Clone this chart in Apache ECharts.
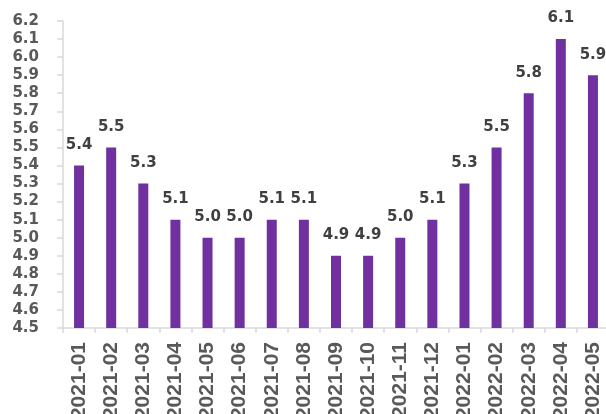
<!DOCTYPE html>
<html>
<head>
<meta charset="utf-8">
<script src="https://cdn.jsdelivr.net/npm/echarts@6/dist/echarts.min.js"></script>
<style>
  html, body { margin: 0; padding: 0; background: #fff; }
  #chart { width: 606px; height: 414px; }
</style>
</head>
<body>
<div id="chart"></div>
<script>
// months on the x axis
var months = ['2021-01', '2021-02', '2021-03', '2021-04', '2021-05', '2021-06',
  '2021-07', '2021-08', '2021-09', '2021-10', '2021-11', '2021-12',
  '2022-01', '2022-02', '2022-03', '2022-04', '2022-05'];
// bar values
var values = [5.4, 5.5, 5.3, 5.1, 5.0, 5.0, 5.1, 5.1, 4.9, 4.9, 5.0, 5.1, 5.3, 5.5, 5.8, 6.1, 5.9];
// y axis range
var yMin = 4.5, yMax = 6.2, yStep = 0.1;

var chart = echarts.init(document.getElementById('chart'));
chart.setOption({
  animation: false,
  grid: { left: 63, right: -3, top: 21, bottom: 86, containLabel: false, outerBoundsMode: 'none' },
  xAxis: {
    type: 'category',
    data: months,
    axisLine: { lineStyle: { color: '#d9d9d9', width: 1.5 } },
    axisTick: { show: true, length: 5, alignWithLabel: false, lineStyle: { color: '#d9d9d9', width: 1.5 } },
    axisLabel: {
      rotate: 90,
      interval: 0,
      margin: 14,
      color: '#595959',
      fontFamily: "'Liberation Sans'",
      fontWeight: 700,
      fontSize: 21
    }
  },
  yAxis: {
    type: 'value',
    min: yMin,
    max: yMax,
    interval: yStep,
    splitLine: { show: false },
    axisLine: { show: true, lineStyle: { color: '#d9d9d9', width: 1.5 } },
    axisTick: { show: true, length: 6, lineStyle: { color: '#d9d9d9', width: 1.5 } },
    axisLabel: {
      margin: 24,
      color: '#595959',
      fontFamily: "'DejaVu Sans'",
      fontWeight: 700,
      fontSize: 15,
      formatter: function (v) { return v.toFixed(1); }
    }
  },
  series: [{
    type: 'bar',
    data: values,
    barWidth: 10,
    itemStyle: { color: '#7030a0' },
    label: {
      show: true,
      position: 'top',
      distance: 13,
      color: '#404040',
      fontFamily: "'DejaVu Sans'",
      fontWeight: 700,
      fontSize: 15,
      formatter: function (p) { return p.value.toFixed(1); }
    }
  }]
});
</script>
</body>
</html>
